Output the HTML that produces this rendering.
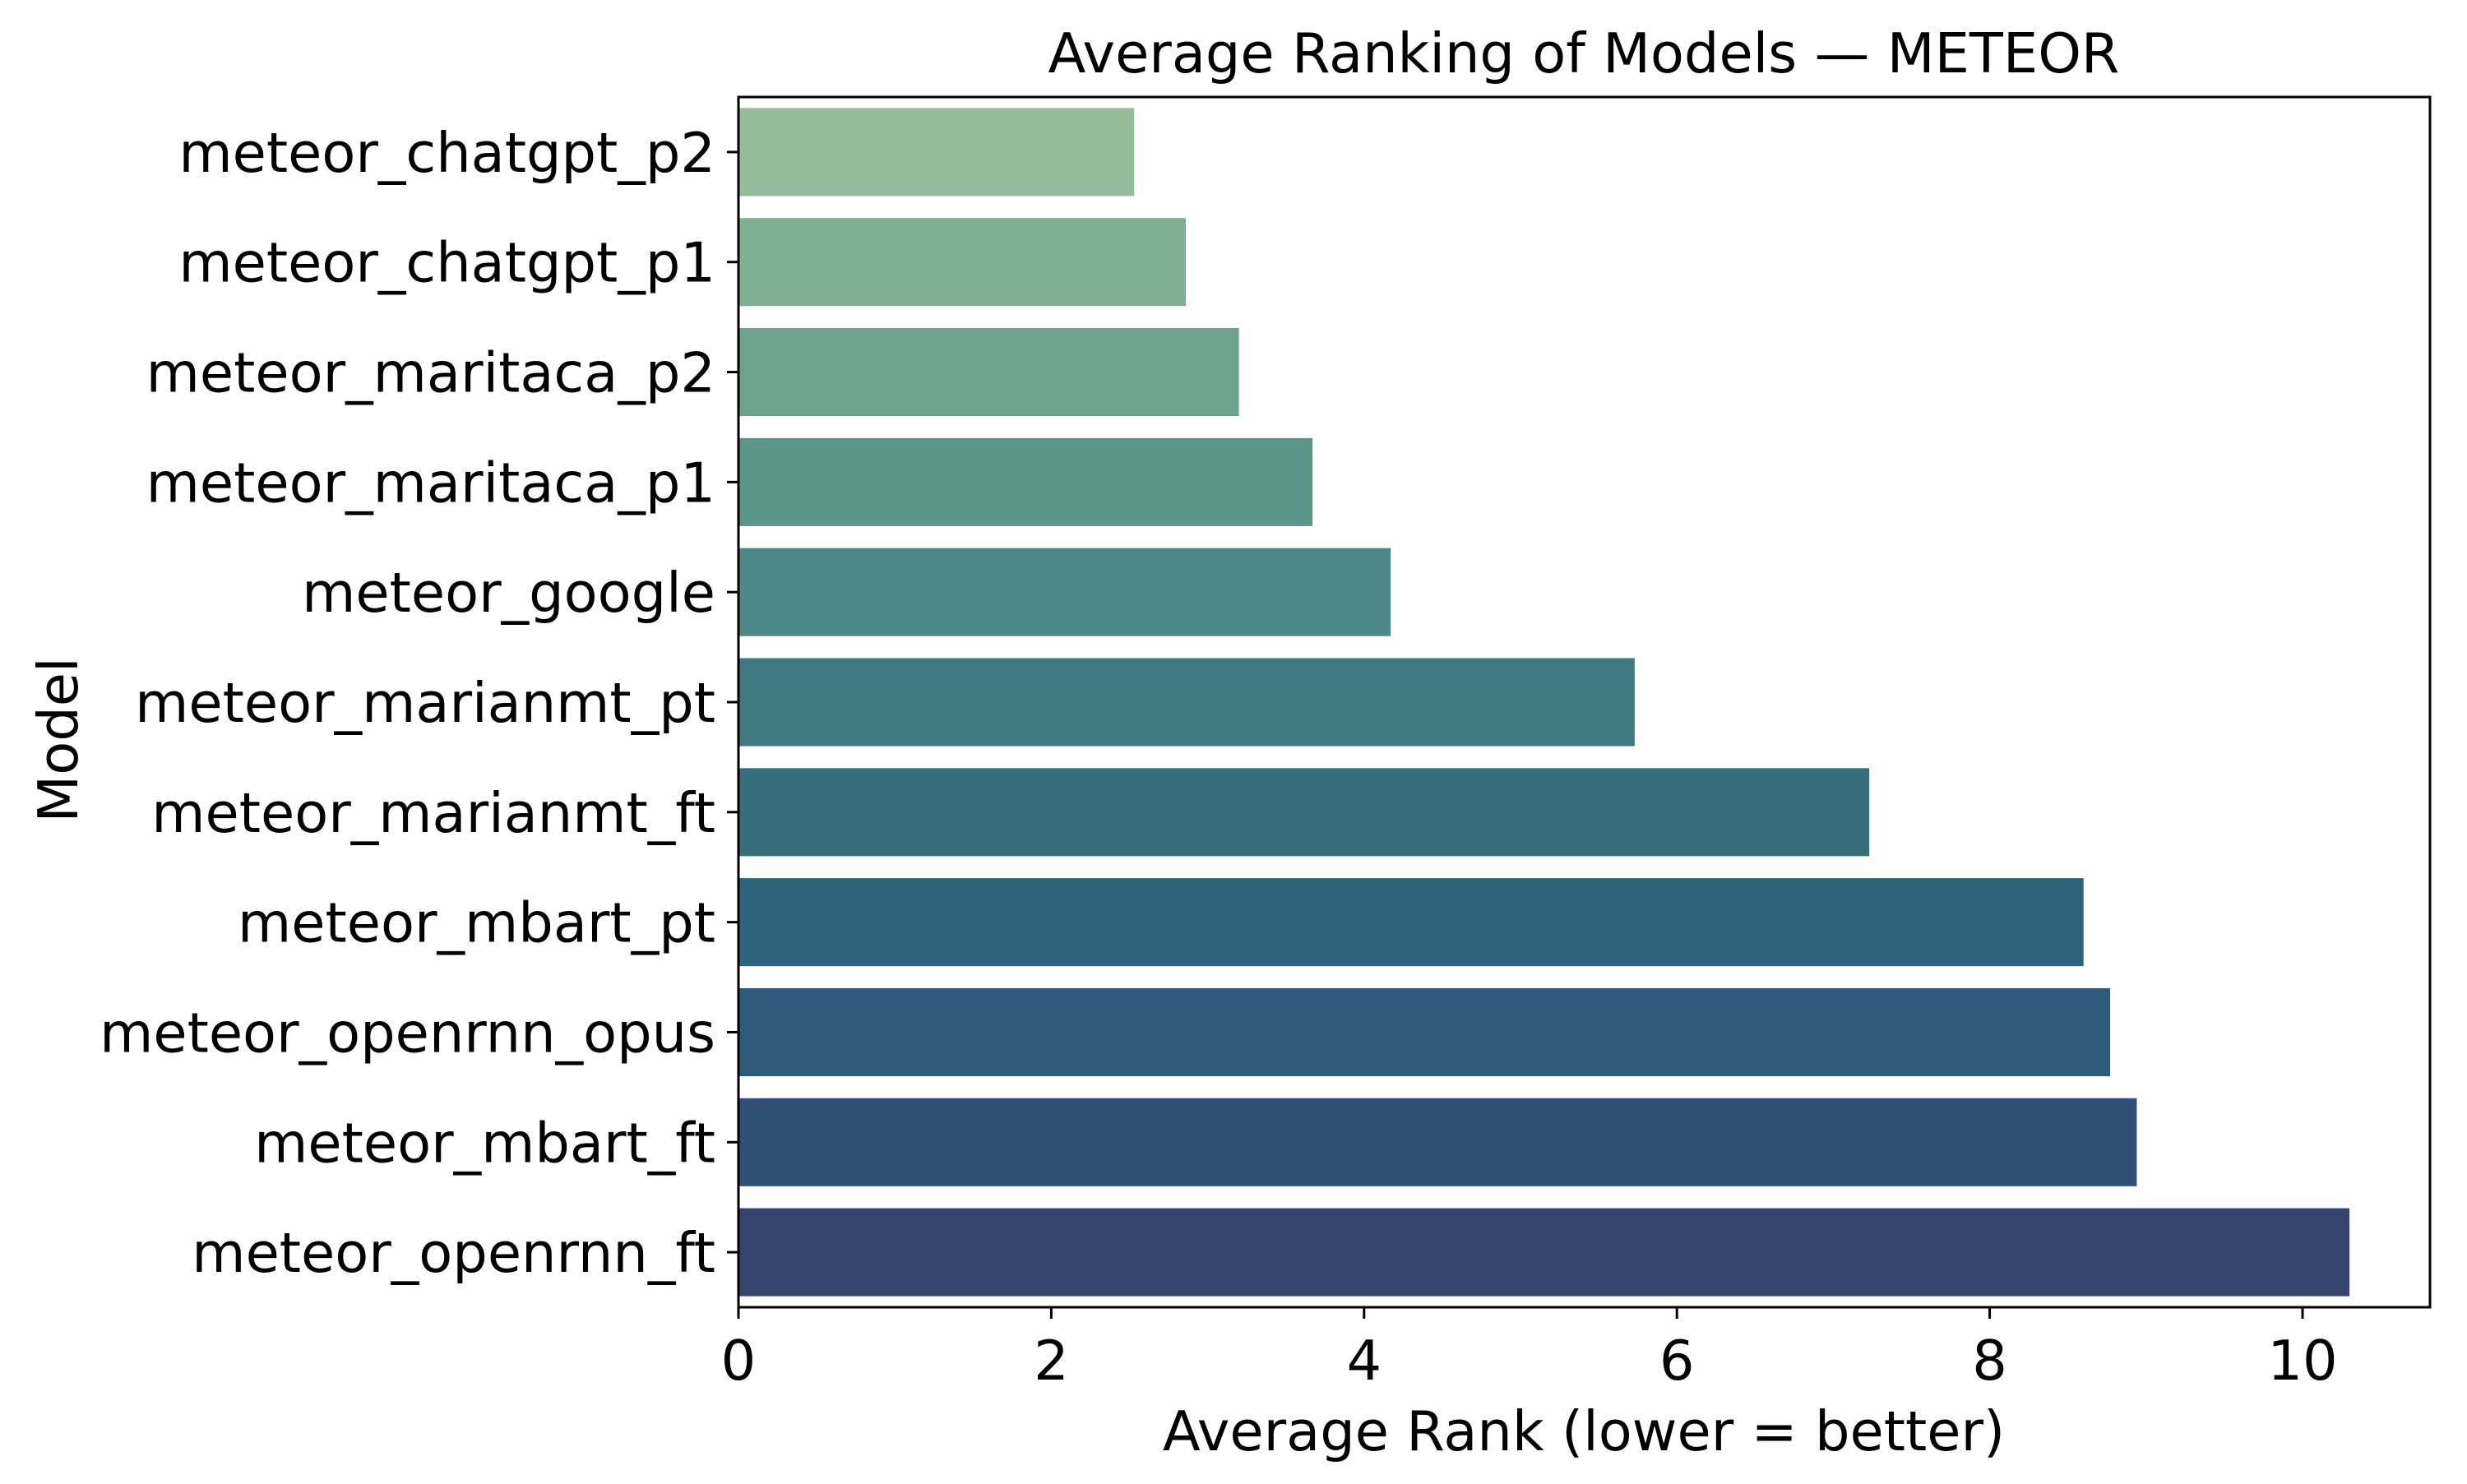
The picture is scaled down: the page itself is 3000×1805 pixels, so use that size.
<!DOCTYPE html>
<html><head><meta charset="utf-8"><style>
html,body{margin:0;padding:0;background:#fff;}
svg text{font-family:"DejaVu Sans","Liberation Sans",sans-serif;fill:#000;}
</style></head><body>
<svg id="chart" width="3000" height="1800" viewBox="0 0 3000 1800" xmlns="http://www.w3.org/2000/svg">
<rect width="3000" height="1800" fill="#fff"/>
<g id="bars"></g>
<g id="axes"></g>
<text x="1926" y="88" font-size="67" text-anchor="middle">Average Ranking of Models — METEOR</text>
<text x="1926" y="1764" font-size="67" text-anchor="middle">Average Rank (lower = better)</text>
<text x="0" y="0" font-size="67" text-anchor="middle" transform="translate(94,900) rotate(-90)">Model</text>
</svg>
<script>
const categories = ["meteor_chatgpt_p2","meteor_chatgpt_p1","meteor_maritaca_p2","meteor_maritaca_p1","meteor_google","meteor_marianmt_pt","meteor_marianmt_ft","meteor_mbart_pt","meteor_openrnn_opus","meteor_mbart_ft","meteor_openrnn_ft"];
const values = [2.53,2.86,3.20,3.67,4.17,5.73,7.23,8.60,8.77,8.94,10.30];
const xTicks = [0,2,4,6,8,10];
const colors = ["#95bc98","#7fb091","#6aa28c","#5b9588","#4b8886","#3f7a82","#366e7e","#2e637c","#2d597a","#314f76","#35446f"];

const NS = "http://www.w3.org/2000/svg";
const L = 898, R = 2955, T = 118, B = 1590;
const xMax = Math.max(...values) * 1.05;
function xs(v){ return L + (v / xMax) * (R - L); }
const band = (B - T) / categories.length;
function yc(i){ return T + band * (i + 0.5); }
function mk(tag, attrs){ const e = document.createElementNS(NS, tag); for (const k in attrs) e.setAttribute(k, attrs[k]); return e; }
const barsG = document.getElementById('bars');
const axesG = document.getElementById('axes');
values.forEach((v, i) => {
  const h = band * 0.8;
  const r = mk('rect', {x: xs(0), y: yc(i) - h/2, width: xs(v) - xs(0), height: h, fill: colors[i]});
  
  
  barsG.appendChild(r);
  const t = mk('line', {x1: L - 14, x2: L, y1: yc(i), y2: yc(i), stroke: '#000', 'stroke-width': 3});
  
  
  axesG.appendChild(t);
  const lb = mk('text', {x: L - 28, y: yc(i) + 24, 'font-size': 67, 'text-anchor': 'end'});
  lb.textContent = categories[i];
  
  
  axesG.appendChild(lb);
});
xTicks.forEach(v => {
  const t = mk('line', {x1: xs(v), x2: xs(v), y1: B, y2: B + 14, stroke: '#000', 'stroke-width': 3});
  
  
  axesG.appendChild(t);
  const lb = mk('text', {x: xs(v), y: B + 88, 'font-size': 67, 'text-anchor': 'middle'});
  lb.textContent = String(v);
  
  
  axesG.appendChild(lb);
});
const frame = mk('rect', {x: L, y: T, width: R - L, height: B - T, fill: 'none', stroke: '#000', 'stroke-width': 3});


axesG.appendChild(frame);
</script>
</body></html>
